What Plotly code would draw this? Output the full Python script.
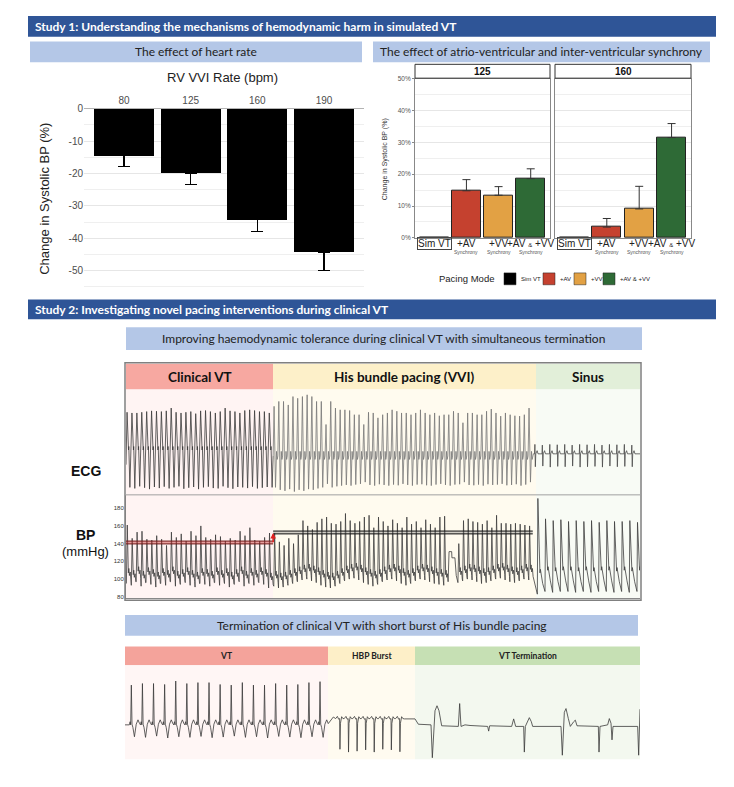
import plotly.graph_objects as go

W, H = 734, 787


def px(x):
    return x / W


def py(y):
    return 1 - y / H


# ---------------- Study 1: heart rate ----------------
rate_labels = ["80", "125", "160", "190"]
rate_change = [-14.4, -19.9, -34.3, -44.3]
rate_sd = [3.3, 3.4, 3.6, 5.6]
rate_ticks = [0, -10, -20, -30, -40, -50]

# ---------------- Study 1: synchrony ----------------
modes = ["Sim VT", "+AV", "+VV", "+AV & +VV"]
mode_colors = ["#000000", "#c5412f", "#e2a144", "#2e6a36"]
sync_125 = [0.0, 14.8, 13.4, 18.6]
sync_125_sd = [0.0, 3.5, 2.7, 3.1]
sync_160 = [0.0, 3.4, 9.1, 31.5]
sync_160_sd = [0.0, 2.7, 7.1, 4.4]
sync_ticks = [0, 10, 20, 30, 40, 50]

# ---------------- Study 2: ECG (per-beat amplitudes, mV) ----------------
ecg_vt_peak = [1.10, 1.08, 1.08, 1.10, 1.12, 1.14, 1.13, 1.12, 1.14, 1.22,
               1.10, 1.08, 1.10, 1.12, 1.06, 1.14, 1.15, 1.12, 1.08, 1.12,
               1.22, 1.14, 1.12, 1.08, 1.15, 1.17, 1.15, 1.12, 1.12, 1.08]
ecg_vt_trough = [-1.05, -1.08, -1.02, -1.06, -1.10, -1.04, -1.07, -1.03, -1.08, -1.05,
                 -1.02, -1.09, -1.06, -1.04, -1.10, -1.05, -1.03, -1.07, -1.08, -1.02,
                 -1.06, -1.09, -1.04, -1.05, -1.07, -1.03, -1.08, -1.06, -1.04, -1.05]
ecg_his_peak = [1.27, 1.41, 1.41, 1.31, 1.55, 1.50, 1.55, 1.60, 1.55, 1.41,
                1.41, 0.75, 1.41, 1.22, 1.17, 1.17, 1.15, 1.03, 1.03, 0.75,
                1.10, 1.08, 0.94, 1.03, 1.08, 1.17, 1.13, 1.08, 1.08, 1.03,
                1.08, 1.17, 1.08, 1.03, 1.08, 1.00, 1.03, 1.03, 1.13, 1.08,
                0.80, 1.08, 1.08, 1.03, 1.03, 1.13, 1.19, 1.08, 0.99, 1.08,
                1.03, 1.00, 0.99, 1.03, 1.22]
ecg_his_trough = [-1.05, -1.12, -1.15, -1.10, -1.17, -1.12, -1.15, -1.10, -1.12, -1.08,
                  -1.05, -0.95, -1.05, -1.02, -1.00, -0.98, -1.00, -0.97, -0.95, -0.90,
                  -0.98, -1.00, -0.96, -0.98, -1.00, -0.97, -0.99, -0.95, -0.98, -1.00,
                  -0.97, -0.96, -0.99, -1.00, -0.97, -0.95, -0.98, -1.00, -0.97, -0.96,
                  -0.90, -0.98, -0.99, -0.97, -1.00, -0.96, -0.98, -0.97, -0.95, -0.99,
                  -0.98, -0.96, -1.00, -0.97, -0.90]
ecg_sinus_r = [0.18, 0.16, 0.18, 0.17, 0.18, 0.16, 0.18, 0.17, 0.18, 0.16, 0.18, 0.17, 0.18, 0.16]
ecg_sinus_s = [-0.46, -0.44, -0.47, -0.45, -0.46, -0.44, -0.47, -0.46, -0.45, -0.47, -0.44, -0.46, -0.45, -0.46]

# ---------------- Study 2: BP (per-beat systolic / diastolic, mmHg) ----------------
bp_vt_sys = [161, 146, 153, 154, 145, 144, 149, 145, 138, 153,
             147, 151, 143, 154, 149, 160, 147, 145, 150, 148,
             143, 146, 144, 154, 149, 158, 144, 143, 147, 152]
bp_vt_dia = [95, 93, 97, 92, 96, 94, 91, 95, 93, 97,
             92, 94, 96, 93, 91, 95, 94, 92, 96, 93,
             95, 91, 94, 97, 92, 95, 93, 96, 94, 90]
bp_his_sys = [152, 142, 138, 146, 140, 150, 166, 160, 156, 164,
              168, 170, 163, 162, 165, 174, 166, 163, 165, 170,
              172, 158, 170, 165, 160, 167, 163, 158, 170, 162,
              165, 158, 167, 162, 158, 170, 171, None, None, 140,
              166, 168, 165, 164, 162, 166, 158, 172, 163, 163,
              162, 163, 162, 161, 160]
bp_his_dia = [92, 90, 91, 93, 95, 97, 99, 100, 98, 96,
              93, 91, 90, 92, 95, 98, 100, 101, 99, 96,
              94, 92, 94, 97, 99, 100, 98, 95, 93, 95,
              98, 100, 99, 97, 95, 94, 93, None, None, 96,
              98, 100, 99, 97, 95, 96, 98, 100, 101, 99,
              97, 96, 98, 100, 99]
bp_artifact_t = [24.66, 24.70, 24.90, 24.92, 25.15, 25.25]
bp_artifact_mmhg = [118, 131, 131, 124, 124, 104]
bp_sinus_sys = [191, 168, 166, 167, 165, 166, 165, 166, 164, 166, 165, 165, 166, 164]
bp_sinus_dia = [83, 86, 85, 86, 86, 85, 86, 85, 86, 86, 85, 86, 85, 86]
bp_mean_vt = 141.3
bp_mean_his = 152.6
bp_ticks = [80, 100, 120, 140, 160, 180]

# timing of the top recording (s)
T_VT_END, T_HIS_END, T_END = 11.25, 31.1, 39.3
VT_CL, HIS_CL, SIN_ECG_CL, SIN_BP_CL = 0.375, 0.361, 0.57, 0.586

# ---------------- Study 2: termination strip ----------------
strip_vt_peak = [1.27, 1.32, 1.32, 1.29, 1.40, 1.32, 1.35, 1.35, 1.29, 1.27,
                 1.35, 1.27, 1.27, 1.32, 1.27, 1.29, 1.35, 1.38]
strip_vt_trough = [-0.38, -0.40, -0.36, -0.42, -0.38, -0.40, -0.37, -0.41, -0.39, -0.36,
                   -0.40, -0.38, -0.42, -0.37, -0.39, -0.41, -0.38, -0.40]
hbp_spike = [-0.78, -0.87, -0.84, -0.80, -0.87, -0.78, -0.80, -0.86]
term_t = [8.38, 8.70, 8.80, 9.18, 9.22, 9.30, 9.36, 9.42, 9.50, 10.00, 10.04, 10.08,
          10.20, 10.35, 10.88, 10.91, 10.94, 11.60, 11.66, 11.72, 11.96, 11.98, 12.01,
          12.08, 12.13, 12.19, 12.23, 13.08, 13.12, 13.18, 13.23, 13.30, 13.36, 13.46,
          13.51, 13.56, 14.20, 14.22, 14.25, 14.48, 14.53, 14.58, 14.61, 14.64, 15.38,
          15.41, 15.45]
term_mv = [0.19, 0.19, 0.02, 0.0, -1.05, 0.45, 0.61, 0.45, -0.03, -0.05, 0.68, -0.05,
           0.0, -0.02, -0.05, -0.20, -0.03, -0.05, 0.19, -0.05, -0.05, -0.87, -0.05,
           0.15, 0.23, 0.10, -0.05, -0.05, -0.97, 0.40, 0.52, 0.20, -0.05, 0.10,
           0.15, -0.03, -0.05, -0.87, -0.05, 0.0, 0.20, 0.05, -0.48, -0.05, -0.05,
           -0.97, 0.50]
STRIP_VT_CL, HBP_CL = 0.333, 0.257
STRIP_END = 15.45


# ---------------- waveform builders (shape templates per beat) ----------------
def beats(t0, cl, amps, template):
    xs, ys = [], []
    for i, a in enumerate(amps):
        if a[0] is None:
            continue
        t = t0 + i * cl
        for f, fn in template:
            xs.append(t + f * cl)
            ys.append(fn(*a))
    return xs, ys


vt_ecg_x, vt_ecg_y = beats(0.08, VT_CL, list(zip(ecg_vt_peak, ecg_vt_trough)),
                           [(0.0, lambda p, q: p), (0.30, lambda p, q: 0.02),
                            (0.36, lambda p, q: 0.12), (0.58, lambda p, q: q)])
vt_ecg_x = [0.0] + vt_ecg_x
vt_ecg_y = [-0.4] + vt_ecg_y
his_ecg_x, his_ecg_y = beats(T_VT_END, HIS_CL, list(zip(ecg_his_peak, ecg_his_trough)),
                             [(0.0, lambda p, q: -0.15), (0.2, lambda p, q: p),
                              (0.5, lambda p, q: q), (0.72, lambda p, q: -0.02),
                              (0.86, lambda p, q: -0.25)])
sin_ecg_x, sin_ecg_y = beats(T_HIS_END + 0.05, SIN_ECG_CL, list(zip(ecg_sinus_r, ecg_sinus_s)),
                             [(0.0, lambda r, s: -0.09), (0.15, lambda r, s: -0.09),
                              (0.2, lambda r, s: r), (0.26, lambda r, s: s),
                              (0.32, lambda r, s: -0.09), (0.5, lambda r, s: 0.0),
                              (0.62, lambda r, s: -0.09)])
sin_ecg_x = sin_ecg_x + [T_END]
sin_ecg_y = sin_ecg_y + [-0.09]

bp_tpl = [(0.0, lambda s, d: d), (0.18, lambda s, d: s), (0.40, lambda s, d: d + 12),
          (0.50, lambda s, d: d + 17), (0.62, lambda s, d: d + 9),
          (0.78, lambda s, d: d + 13), (0.92, lambda s, d: d + 4)]
vt_bp_x, vt_bp_y = beats(0.03, VT_CL, list(zip(bp_vt_sys, bp_vt_dia)), bp_tpl)
his_bp_x, his_bp_y = beats(T_VT_END + 0.05, HIS_CL, list(zip(bp_his_sys, bp_his_dia)), bp_tpl)
pairs = sorted(zip(his_bp_x + bp_artifact_t, his_bp_y + bp_artifact_mmhg))
his_bp_x = [p[0] for p in pairs]
his_bp_y = [p[1] for p in pairs]
sin_bp_x, sin_bp_y = beats(31.45, SIN_BP_CL, list(zip(bp_sinus_sys, bp_sinus_dia)),
                           [(0.0, lambda s, d: d), (0.07, lambda s, d: s),
                            (0.28, lambda s, d: d + 36), (0.34, lambda s, d: d + 24),
                            (0.40, lambda s, d: d + 28), (0.70, lambda s, d: d + 12),
                            (0.96, lambda s, d: d + 3)])

st_vt_x, st_vt_y = beats(0.13, STRIP_VT_CL, list(zip(strip_vt_peak, strip_vt_trough)),
                         [(0.0, lambda p, q: 0.0), (0.07, lambda p, q: 0.1),
                          (0.12, lambda p, q: 0.0), (0.18, lambda p, q: p),
                          (0.24, lambda p, q: 0.02), (0.32, lambda p, q: -0.08),
                          (0.46, lambda p, q: q), (0.62, lambda p, q: 0.02),
                          (0.78, lambda p, q: 0.16), (0.92, lambda p, q: 0.04)])
st_vt_x = [0.0] + st_vt_x + [6.18, 6.25]
st_vt_y = [0.0] + st_vt_y + [0.15, 0.25]
hbp_x, hbp_y = beats(6.32, HBP_CL, [(v,) for v in hbp_spike],
                     [(0.0, lambda s: 0.2), (0.2, lambda s: 0.27), (0.35, lambda s: 0.18),
                      (0.46, lambda s: 0.2), (0.5, lambda s: s), (0.56, lambda s: 0.05),
                      (0.7, lambda s: 0.26), (0.85, lambda s: 0.2)])
strip_x = st_vt_x + hbp_x + term_t
strip_y = st_vt_y + hbp_y + term_mv

# ---------------- figure ----------------
fig = go.Figure()
ARIAL = "Liberation Sans, Arial, sans-serif"
CALIBRI = "Lato, Open Sans, sans-serif"

fig.add_trace(go.Bar(
    x=rate_labels, y=rate_change, width=0.9,
    marker=dict(color="#000000", line=dict(width=0)),
    error_y=dict(type="data", symmetric=False, array=[0] * len(rate_sd), arrayminus=rate_sd,
                 color="#000000", thickness=1.2, width=6),
    xaxis="x", yaxis="y", showlegend=False, hoverinfo="skip"))

for k, (vals, sds) in enumerate([(sync_125, sync_125_sd), (sync_160, sync_160_sd)]):
    ax = str(k + 2)
    fig.add_trace(go.Bar(
        x=modes, y=vals, width=0.9,
        marker=dict(color=mode_colors, line=dict(color="#222222", width=1)),
        error_y=dict(type="data", symmetric=False, array=sds, arrayminus=[0] * len(sds),
                     color="#333333", thickness=1, width=4),
        xaxis="x" + ax, yaxis="y" + ax, showlegend=False, hoverinfo="skip"))

# top ECG
fig.add_trace(go.Scatter(x=vt_ecg_x + his_ecg_x[:1], y=vt_ecg_y + his_ecg_y[:1], mode="lines",
                         line=dict(color="#3a3a3a", width=0.8), xaxis="x4", yaxis="y4",
                         showlegend=False, hoverinfo="skip"))
fig.add_trace(go.Scatter(x=his_ecg_x + sin_ecg_x[:1], y=his_ecg_y + sin_ecg_y[:1], mode="lines",
                         line=dict(color="#777777", width=0.8), xaxis="x4", yaxis="y4",
                         showlegend=False, hoverinfo="skip"))
fig.add_trace(go.Scatter(x=sin_ecg_x, y=sin_ecg_y, mode="lines",
                         line=dict(color="#4a4a4a", width=0.8), xaxis="x4", yaxis="y4",
                         showlegend=False, hoverinfo="skip"))

# BP
fig.add_trace(go.Scatter(x=vt_bp_x + his_bp_x + sin_bp_x, y=vt_bp_y + his_bp_y + sin_bp_y,
                         mode="lines", line=dict(color="#3d3d3d", width=0.8),
                         xaxis="x5", yaxis="y5", showlegend=False, hoverinfo="skip"))
for (t0, t1, m, fillc, edge) in [(0.0, T_VT_END, bp_mean_vt, "rgba(205,50,50,0.45)", "#6e1b1b"),
                                  (T_VT_END, T_HIS_END, bp_mean_his, "rgba(120,120,120,0.35)", "#111111")]:
    fig.add_trace(go.Scatter(x=[t0, t1], y=[m - 1.6, m - 1.6], mode="lines",
                             line=dict(color=edge, width=1), xaxis="x5", yaxis="y5",
                             showlegend=False, hoverinfo="skip"))
    fig.add_trace(go.Scatter(x=[t0, t1], y=[m + 1.6, m + 1.6], mode="lines", fill="tonexty",
                             fillcolor=fillc, line=dict(color=edge, width=1), xaxis="x5", yaxis="y5",
                             showlegend=False, hoverinfo="skip"))

# termination strip
fig.add_trace(go.Scatter(x=strip_x, y=strip_y, mode="lines", line=dict(color="#3a3a3a", width=0.8),
                         xaxis="x6", yaxis="y6", showlegend=False, hoverinfo="skip"))

# ---------------- shapes ----------------
shapes = []


def rect(x0, y0, x1, y1, fill=None, line=None, lw=1, layer="below"):
    shapes.append(dict(type="rect", xref="paper", yref="paper",
                       x0=px(x0), x1=px(x1), y0=py(y1), y1=py(y0),
                       fillcolor=fill if fill else "rgba(0,0,0,0)",
                       line=dict(color=line if line else "rgba(0,0,0,0)", width=lw if line else 0),
                       layer=layer))


BANNER = "#2f5597"
SUB = "#b4c7e7"
rect(28, 10, 716, 31, BANNER)
rect(30, 36, 362, 57, SUB)
rect(373, 36, 710, 57, SUB)
rect(415, 59, 550, 73, "#ffffff", "#333333", 1, "above")
rect(555, 59, 691, 73, "#ffffff", "#333333", 1, "above")
rect(28, 297, 716, 317, BANNER)
rect(126, 325, 642, 348, SUB)
rect(126, 362, 273, 388, "#f7a8a1")
rect(273, 362, 536, 388, "#fdf0c9")
rect(536, 362, 640, 388, "#e2efd9")
rect(126, 388, 273, 600, "#fff4f3")
rect(273, 388, 536, 600, "#fffbef")
rect(536, 388, 640, 600, "#f8fbf5")
rect(125, 361, 641, 601, None, "#808080", 1.5, "above")
shapes.append(dict(type="line", xref="paper", yref="paper", x0=px(125), x1=px(641),
                   y0=py(494.5), y1=py(494.5), line=dict(color="#a0a0a0", width=1), layer="above"))
rect(125, 616, 638, 637, SUB)
rect(125, 648, 328, 667, "#f4a39b")
rect(328, 648, 415, 667, "#fdefc8")
rect(415, 648, 640, 667, "#c6e0b4")
rect(125, 667, 328, 762, "#fff6f5")
rect(328, 667, 415, 762, "#fffbf0")
rect(415, 667, 640, 762, "#f3f8ef")

# legend squares
leg_x = [504, 543, 574, 603]
for xx, c in zip(leg_x, mode_colors):
    rect(xx, 270, xx + 12, 282, c, "#222222", 0.5, "above")

# ---------------- annotations ----------------
ann = []


def txt(x, y, text, size, color="#222222", family=ARIAL, xanchor="center", angle=0, **kw):
    d = dict(xref="paper", yref="paper", x=px(x), y=py(y), text=text, showarrow=False,
             font=dict(size=size, color=color, family=family), xanchor=xanchor,
             yanchor="middle", textangle=angle)
    d.update(kw)
    ann.append(d)


txt(33, 20.5, "<b>Study 1: Understanding the mechanisms of hemodynamic harm in simulated VT</b>",
    12, "#ffffff", CALIBRI, "left")
txt(196, 46.5, "The effect of heart rate", 12, "#222222", CALIBRI)
txt(541.5, 46.5, "The effect of atrio-ventricular and inter-ventricular synchrony", 12, "#222222", CALIBRI)
txt(222, 72, "RV VVI Rate (bpm)", 13, "#222222")
txt(45, 195, "Change in Systolic BP (%)", 13, "#222222", angle=-90)

txt(482.5, 66, "<b>125</b>", 10, "#111111")
txt(623, 66, "<b>160</b>", 10, "#111111")
txt(385, 155, "Change in Systolic BP (%)", 7, "#333333", angle=-90)

for axn in ["x2", "x3"]:
    for i, m in enumerate(modes):
        lab = m.replace(" & ", " <span style='font-size:6px'>&</span> ")
        d = dict(xref=axn, yref="paper", x=i, y=py(240.5), text=lab, showarrow=False,
                 font=dict(size=10, color="#222222", family=ARIAL), xanchor="center", yanchor="middle")
        if i == 0:
            d.update(bordercolor="#444444", borderwidth=1, borderpad=0)
        ann.append(d)
        if i > 0:
            ann.append(dict(xref=axn, yref="paper", x=i, y=py(249), text="Synchrony", showarrow=False,
                            font=dict(size=5, color="#555555", family=ARIAL), xanchor="center",
                            yanchor="middle"))

txt(466, 276, "Pacing Mode", 9.5, "#222222")
leg_labels = ["Sim VT", "+AV", "+VV", "+AV & +VV"]
for xx, lab in zip(leg_x, leg_labels):
    txt(xx + 15, 276, lab, 6, "#222222", xanchor="left")

txt(33, 307, "<b>Study 2: Investigating novel pacing interventions during clinical VT</b>",
    12, "#ffffff", CALIBRI, "left")
txt(384, 336.5, "Improving haemodynamic tolerance during clinical VT with simultaneous termination",
    12, "#222222", CALIBRI)
txt(199.5, 375, "<b>Clinical VT</b>", 13.5, "#111111", CALIBRI)
txt(404.5, 375, "<b>His bundle pacing (VVI)</b>", 13.5, "#111111", CALIBRI)
txt(588, 375, "<b>Sinus</b>", 13.5, "#111111", CALIBRI)
txt(86, 470, "<b>ECG</b>", 14, "#111111")
txt(85, 535, "<b>BP</b>", 14, "#111111")
txt(85, 552, "(mmHg)", 13, "#111111")

txt(381.5, 626.5, "Termination of clinical VT with short burst of His bundle pacing", 12, "#222222", CALIBRI)
txt(226.5, 657.5, "<b>VT</b>", 8.5, "#222222", CALIBRI)
txt(371.5, 657.5, "<b>HBP Burst</b>", 8.5, "#222222", CALIBRI)
txt(527.5, 657.5, "<b>VT Termination</b>", 8.5, "#222222", CALIBRI)

# red arrow (step in mean BP)
ann.append(dict(xref="x5", yref="y5", axref="x5", ayref="y5", x=T_VT_END, y=bp_mean_his - 0.5,
                ax=T_VT_END, ay=bp_mean_vt - 1.5, showarrow=True, arrowhead=2, arrowsize=0.7,
                arrowwidth=1.6, arrowcolor="#e02020", text=""))

# ---------------- axes ----------------
hidden = dict(showgrid=False, zeroline=False, showticklabels=False, ticks="", showline=False)
fig.update_layout(
    width=W, height=H, margin=dict(l=0, r=0, t=0, b=0),
    paper_bgcolor="#ffffff", plot_bgcolor="rgba(0,0,0,0)",
    shapes=shapes, annotations=ann, bargap=0,
    xaxis=dict(domain=[px(84), px(364)], type="category", range=[-0.6, 3.6], side="top",
               anchor="y", showgrid=False, zeroline=False, ticks="", showline=False,
               tickfont=dict(size=10, color="#4d4d4d", family=ARIAL), ticklabelstandoff=2),
    yaxis=dict(domain=[py(289), py(104)], range=[-56.5, 0], anchor="x",
               tickvals=rate_ticks, ticktext=[str(v) for v in rate_ticks],
               tickfont=dict(size=10, color="#4d4d4d", family=ARIAL),
               showgrid=True, gridcolor="#e6e6e6", gridwidth=1,
               minor=dict(dtick=5, tick0=0, showgrid=True, gridcolor="#efefef", gridwidth=1),
               zeroline=True, zerolinecolor="#b3b3b3", zerolinewidth=1, ticks="", showline=False),
    xaxis2=dict(domain=[px(415), px(550)], type="category", range=[-0.6, 3.6], anchor="y2",
                showticklabels=False, showgrid=False, zeroline=False, ticks="",
                showline=True, mirror=True, linecolor="#888888", linewidth=1),
    yaxis2=dict(domain=[py(234.6), py(73.5)], range=[0, 50], anchor="x2",
                tickvals=sync_ticks, ticktext=[f"{v}%" for v in sync_ticks],
                tickfont=dict(size=6.5, color="#555555", family=ARIAL),
                showgrid=True, gridcolor="#e6e6e6",
                minor=dict(dtick=5, tick0=0, showgrid=True, gridcolor="#efefef"),
                zeroline=False, ticks="outside", ticklen=2, tickcolor="#888888",
                showline=True, mirror=True, linecolor="#888888", linewidth=1),
    xaxis3=dict(domain=[px(555), px(691)], type="category", range=[-0.6, 3.6], anchor="y3",
                showticklabels=False, showgrid=False, zeroline=False, ticks="",
                showline=True, mirror=True, linecolor="#888888", linewidth=1),
    yaxis3=dict(domain=[py(234.6), py(73.5)], range=[0, 50], anchor="x3",
                tickvals=sync_ticks, showticklabels=False,
                showgrid=True, gridcolor="#e6e6e6",
                minor=dict(dtick=5, tick0=0, showgrid=True, gridcolor="#efefef"),
                zeroline=False, ticks="",
                showline=True, mirror=True, linecolor="#888888", linewidth=1),
    xaxis4=dict(domain=[px(126), px(640)], range=[0, T_END], anchor="y4", **hidden),
    yaxis4=dict(domain=[py(494), py(388)], range=[-1.25, 1.75], anchor="x4", **hidden),
    xaxis5=dict(domain=[px(126), px(640)], range=[0, T_END], anchor="y5", showgrid=False,
                zeroline=False, showticklabels=False, ticks="", showline=True, linecolor="#888888"),
    yaxis5=dict(domain=[py(599), py(495)], range=[78.5, 194.5], anchor="x5",
                tickvals=bp_ticks, tickfont=dict(size=6, color="#333333", family=ARIAL),
                showgrid=False, zeroline=False, ticks="", showline=True, linecolor="#888888"),
    xaxis6=dict(domain=[px(125), px(640)], range=[0, STRIP_END], anchor="y6", **hidden),
    yaxis6=dict(domain=[py(762), py(667)], range=[-1.1, 1.9], anchor="x6", **hidden),
)

fig.write_html("out.html", config={"displayModeBar": False},
               post_script="document.body.style.margin='0';document.body.style.overflow='hidden';")
